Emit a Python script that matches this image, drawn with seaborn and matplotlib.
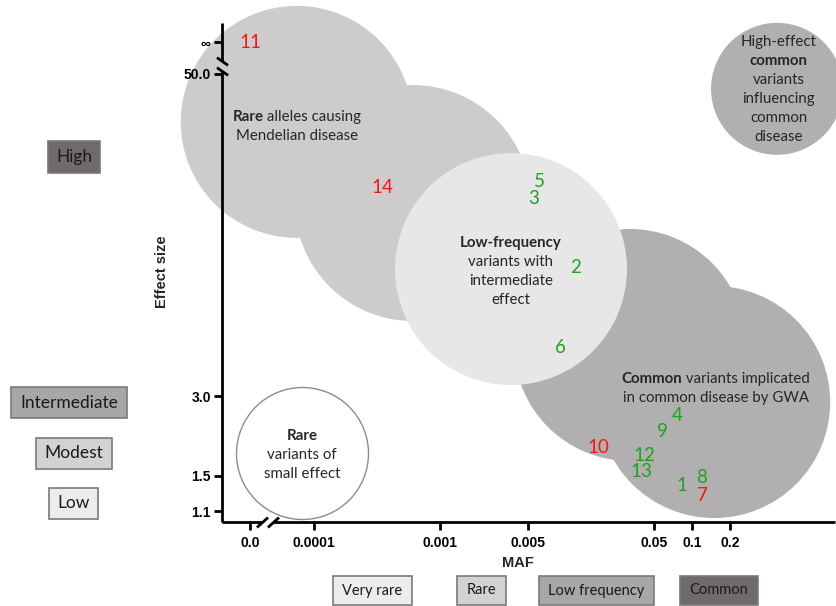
import numpy as np
import pandas as pd
import matplotlib
matplotlib.use("Agg")
import matplotlib.pyplot as plt
import matplotlib.transforms as mtransforms
from matplotlib.patches import Rectangle
import seaborn as sns

# --- DATA ---
variant_ids = ['1', '2', '3', '4', '5', '6', '7', '8', '9', '10', '11', '12', '13', '14']
variant_maf = [0.083, 0.012, 0.0055, 0.076, 0.0062, 0.0091, 0.12, 0.12, 0.058, 0.018, 0.0, 0.042, 0.040, 0.00035]
variant_effect = [1.37, 9.2, 16.8, 2.54, 19.6, 4.6, 1.26, 1.48, 2.2, 1.91, np.inf, 1.78, 1.55, 18.5]
variant_group = ['green', 'green', 'green', 'green', 'green', 'green', 'red', 'green', 'green', 'red', 'red',
                 'green', 'green', 'red']

# shaded regions (centre in MAF / effect size)
region_names = ['Mendelian', 'Mendelian', 'Common', 'Common', 'High-effect common', 'Low-frequency', 'Rare small']
region_maf = [7.3e-5, 6.1e-4, 0.0322, 0.150, 0.473, 3.66e-3, 8.0e-5]
region_effect = [32.9, 16.2, 4.69, 2.85, 43.9, 9.1, 1.83]

# region captions: list of lines, each line a list of (text, weight)
caption_maf = [7.3e-5, 3.66e-3, 0.155, 0.49, 8.0e-5]
caption_effect = [31.5, 8.94, 3.22, 43.7, 1.80]
caption_lines = [
    [[('Rare', 'bold'), (' alleles causing', 'normal')], [('Mendelian disease', 'normal')]],
    [[('Low-frequency', 'bold')], [('variants with', 'normal')], [('intermediate', 'normal')], [('effect', 'normal')]],
    [[('Common', 'bold'), (' variants implicated', 'normal')], [('in common disease by GWA', 'normal')]],
    [[('High-effect', 'normal')], [('common', 'bold')], [('variants', 'normal')], [('influencing', 'normal')],
     [('common', 'normal')], [('disease', 'normal')]],
    [[('Rare', 'bold')], [('variants of', 'normal')], [('small effect', 'normal')]],
]

x_ticks = [0.0, 0.0001, 0.001, 0.005, 0.05, 0.1, 0.2]
x_ticklabels = ['0.0', '0.0001', '0.001', '0.005', '0.05', '0.1', '0.2']
y_ticks = [1.1, 1.5, 3.0, 50.0, np.inf]
y_ticklabels = ['1.1', '1.5', '3.0', '50.0', '\u221e']

effect_levels = ['High', 'Intermediate', 'Modest', 'Low']
maf_classes = ['Very rare', 'Rare', 'Low frequency', 'Common']

# --- STYLE / LAYOUT ---
W, H, DPI = 836, 606, 100
ZERO_POS = 10 ** -4.508   # where MAF 0 is drawn (left of the break)
INF_POS = 66.0            # where an infinite effect is drawn (above the break)
XLIM = (10 ** -4.73, 10 ** 0.135)
YLIM = (1.0, 78.0)
X_GAP = (3.86e-5, 4.73e-5)
Y_GAP = (51.3, 56.0)

region_radius_px = [116, 118, 116, 116, 66, 116, 66]
region_face = ['#cdcbcc', '#cdcbcc', '#b1afb0', '#b1afb0', '#b1afb0', '#e7e7e7', '#ffffff']
region_edge = ['none', 'none', 'none', 'none', 'none', 'none', '#8c8c8c']
group_colours = {'green': '#22a022', 'red': '#f01818'}

effect_box_px = [(48, 141, 100, 173), (11, 387, 127, 418), (36, 438, 112, 469), (49, 488, 98, 519)]
effect_box_col = ['#6f6b6c', '#a8a6a6', '#d3d1d1', '#ececec']
maf_box_px = [(333, 576, 412, 605), (457, 576, 506, 605), (539, 576, 654, 605), (680, 576, 758, 605)]
maf_box_col = ['#ececec', '#d3d1d1', '#a8a6a6', '#6f6b6c']

TXT = '#262626'
BODY_FONT = ['Lato', 'DejaVu Sans']
AXIS_FONT = ['Liberation Sans', 'DejaVu Sans']
CAPTION_SIZE = 10.8

sns.set_theme(style='white')
plt.rcParams['font.family'] = BODY_FONT


def to_x(v):
    return ZERO_POS if v == 0 else v


def to_y(v):
    return INF_POS if np.isinf(v) else v


fig = plt.figure(figsize=(W / DPI, H / DPI), dpi=DPI)
ax = fig.add_axes([222 / W, (H - 522) / H, (835 - 222) / W, (522 - 23) / H])
ax.set_xscale('log')
ax.set_yscale('log')
ax.set_axisbelow(False)

# regions drawn as big circles
regions = pd.DataFrame({'region': region_names, 'maf': region_maf, 'effect': region_effect})
for i, row in regions.iterrows():
    d_pt = 2 * region_radius_px[i] * 72 / DPI
    sns.scatterplot(x=[row['maf']], y=[row['effect']], s=d_pt ** 2, color=region_face[i],
                    edgecolor=region_edge[i], linewidth=1.0 if region_edge[i] != 'none' else 0,
                    ax=ax, legend=False, zorder=1, clip_on=False)

# variant numbers
variants = pd.DataFrame({'id': variant_ids, 'maf': [to_x(v) for v in variant_maf],
                         'effect': [to_y(v) for v in variant_effect], 'group': variant_group})
for _, row in variants.iterrows():
    ax.text(row['maf'], row['effect'], row['id'], color=group_colours[row['group']], fontsize=13.5,
            ha='center', va='center', zorder=5)

ax.set_xlim(*XLIM)
ax.set_ylim(*YLIM)

# region captions with mixed weights
renderer = fig.canvas.get_renderer()
LINE_H = 19
for mx, ey, lines in zip(caption_maf, caption_effect, caption_lines):
    n = len(lines)
    for i, parts in enumerate(lines):
        widths = []
        for t, w in parts:
            tmp = ax.text(0, 0, t, fontsize=CAPTION_SIZE, fontweight=w)
            widths.append(tmp.get_window_extent(renderer).width)
            tmp.remove()
        dx = -sum(widths) / 2
        dy = (n - 1) / 2 * LINE_H - i * LINE_H
        for (t, w), wd in zip(parts, widths):
            tr = mtransforms.offset_copy(ax.transData, fig=fig, x=dx, y=dy, units='dots')
            ax.text(mx, ey, t, transform=tr, fontsize=CAPTION_SIZE, fontweight=w, color=TXT,
                    ha='left', va='center', zorder=6)
            dx += wd

# axes lines with breaks
for s in ax.spines.values():
    s.set_visible(False)
line_kw = dict(color='black', lw=2.0, clip_on=False, zorder=4, solid_capstyle='butt')
ax.plot([XLIM[0], X_GAP[0]], [YLIM[0], YLIM[0]], **line_kw)
ax.plot([X_GAP[1], XLIM[1]], [YLIM[0], YLIM[0]], **line_kw)
ax.plot([XLIM[0], XLIM[0]], [YLIM[0], Y_GAP[0]], **line_kw)
ax.plot([XLIM[0], XLIM[0]], [Y_GAP[1], YLIM[1]], **line_kw)
ax.plot(X_GAP, [YLIM[0], YLIM[0]], ls='none', marker=[(-1, -0.9), (1, 0.9)], ms=8,
        mec='black', mew=2, mfc='none', clip_on=False, zorder=4)
ax.plot([XLIM[0], XLIM[0]], Y_GAP, ls='none', marker=[(-1, 0.7), (1, -0.7)], ms=8,
        mec='black', mew=2, mfc='none', clip_on=False, zorder=4)

ax.minorticks_off()
ax.set_xticks([to_x(v) for v in x_ticks])
ax.set_xticklabels(x_ticklabels, fontweight='bold', family=AXIS_FONT, fontsize=10)
ax.set_yticks([to_y(v) for v in y_ticks])
ax.set_yticklabels(y_ticklabels, fontweight='bold', family=AXIS_FONT, fontsize=10)
ax.tick_params(axis='both', which='major', direction='out', length=6, width=2, color='black',
               labelcolor='black', bottom=True, left=True)
ax.tick_params(axis='x', pad=4)
ax.tick_params(axis='y', pad=2)
ax.xaxis.set_zorder(4)
ax.yaxis.set_zorder(4)

ax.set_xlabel('MAF', fontweight='bold', family=AXIS_FONT, fontsize=10.5)
ax.xaxis.label.set_va('center')
ax.xaxis.set_label_coords((518 - 222) / 613, (522 - 563) / 499)
ax.set_ylabel('Effect size', fontweight='bold', family=AXIS_FONT, fontsize=10.5)
ax.yaxis.label.set_va('center')
ax.yaxis.set_label_coords((162 - 222) / 613, (522 - 272) / 499)
ax.patch.set_alpha(0)


# category boxes
def px_box(l, t, r, b, colour, label, size):
    fig.patches.append(Rectangle((l / W, 1 - b / H), (r - l) / W, (b - t) / H, transform=fig.transFigure,
                                 facecolor=colour, edgecolor='#7a7a7a', lw=1.2))
    fig.text((l + r) / 2 / W, 1 - (t + b) / 2 / H, label, ha='center', va='center',
             fontsize=size, color='#1a1a1a')


for lab, box, col in zip(effect_levels, effect_box_px, effect_box_col):
    px_box(*box, col, lab, 12.5)
for lab, box, col in zip(maf_classes, maf_box_px, maf_box_col):
    px_box(*box, col, lab, 10.5)

fig.savefig('out.png', dpi=DPI)
